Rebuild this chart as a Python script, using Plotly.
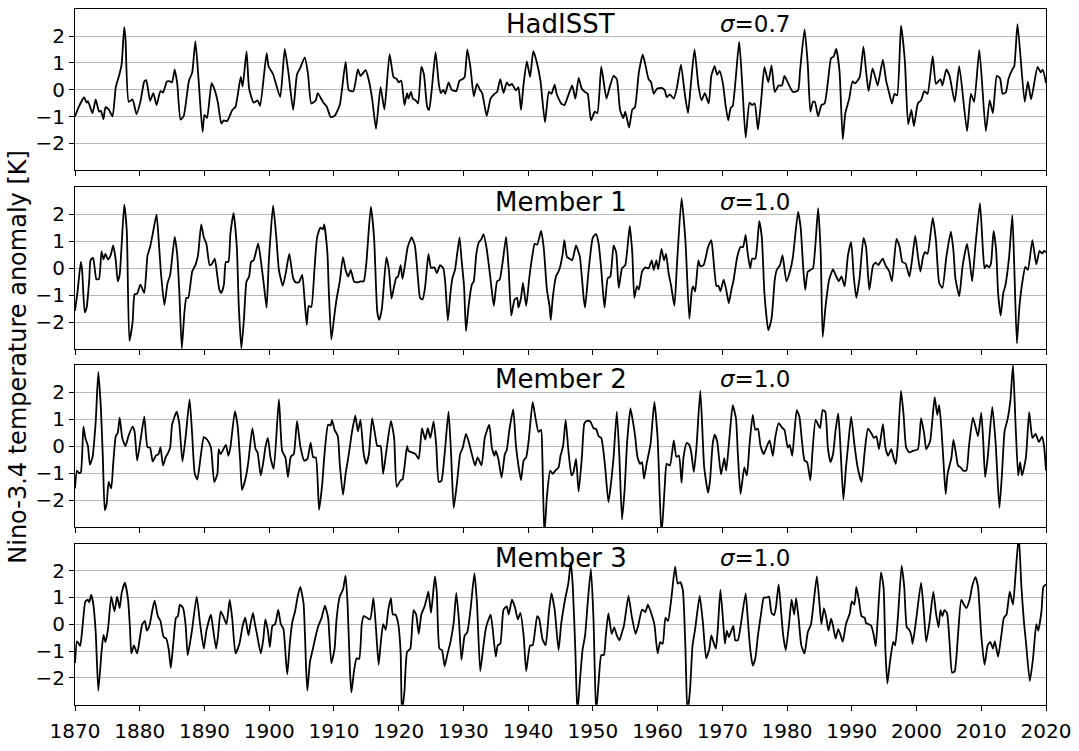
import plotly.graph_objects as go
from plotly.subplots import make_subplots

# ---------------- data (year, anomaly K) ----------------
hadisst = [
(1870.0,-0.99),(1870.6,-0.63),(1871.1,-0.39),(1871.4,-0.27),(1871.8,-0.48),(1872.0,-0.42),(1872.7,-0.87),
(1873.2,-0.36),(1873.7,-0.81),(1874.0,-0.78),(1874.4,-1.09),(1874.7,-0.65),(1875.2,-0.73),(1875.8,-0.99),
(1876.3,0.10),(1876.8,0.52),(1877.2,0.94),(1877.6,2.33),(1877.8,1.91),(1878.3,-0.45),(1878.9,-0.36),
(1879.5,-0.91),(1880.1,-0.45),(1880.7,0.31),(1881.0,0.36),(1881.6,-0.41),(1882.1,-0.12),(1882.6,-0.57),
(1883.2,-0.05),(1883.6,-0.10),(1884.2,0.31),(1884.7,0.31),(1885.0,0.28),(1885.4,0.76),(1885.8,0.22),
(1886.3,-1.11),(1886.8,-0.97),(1887.6,0.34),(1888.1,0.64),(1888.6,1.81),(1889.1,0.34),(1889.7,-1.57),
(1890.0,-0.93),(1890.4,-1.05),(1891.1,0.25),(1891.6,-0.02),(1892.1,-0.51),(1892.6,-1.26),(1893.0,-1.14),
(1893.5,-1.17),(1894.3,-0.75),(1894.8,-0.63),(1895.6,0.48),(1895.9,0.12),(1896.5,1.43),(1896.9,0.04),
(1897.6,-0.48),(1898.2,-0.39),(1898.6,-0.60),(1899.6,1.37),(1899.9,0.88),(1900.6,0.58),(1901.7,-0.27),
(1902.4,1.52),(1903.0,0.58),(1903.7,-0.75),(1904.3,0.58),(1904.8,0.82),(1905.5,1.21),(1906.0,0.58),
(1906.5,-0.51),(1907.2,-0.39),(1907.5,-0.12),(1908.3,-0.45),(1908.9,-0.63),(1909.5,-1.02),(1910.1,-0.97),
(1910.9,-0.57),(1911.8,1.04),(1912.3,-0.02),(1913.0,-0.05),(1913.7,0.76),(1914.1,0.52),(1914.9,0.73),
(1915.4,0.34),(1915.9,-0.33),(1916.5,-1.45),(1917.2,0.10),(1917.8,-0.73),(1918.6,1.33),(1919.2,0.48),
(1919.7,0.40),(1920.0,0.28),(1920.4,0.34),(1920.9,-0.57),(1921.3,-0.12),(1921.5,-0.33),(1921.9,-0.08),
(1922.2,-0.33),(1922.6,-0.39),(1923.0,-0.51),(1923.5,0.85),(1923.9,0.58),(1924.4,-0.63),(1924.7,-0.75),
(1925.1,-0.02),(1925.7,1.40),(1926.2,0.22),(1926.5,-0.12),(1926.9,0.0),(1927.2,-0.15),(1927.7,0.28),
(1928.2,0.0),(1928.9,-0.05),(1929.4,0.34),(1929.9,0.40),(1930.2,0.48),(1930.6,1.51),(1931.1,0.82),
(1931.6,-0.24),(1932.1,0.22),(1932.6,-0.02),(1932.9,-0.12),(1933.6,-0.97),(1934.2,-0.33),(1934.8,-0.15),
(1935.2,-0.08),(1935.7,0.40),(1936.2,-0.12),(1936.7,0.28),(1937.1,0.16),(1937.5,0.22),(1938.1,-0.02),
(1938.5,0.10),(1938.9,-0.75),(1939.3,0.22),(1939.8,1.06),(1940.3,0.48),(1940.8,1.45),(1941.3,1.06),
(1941.9,0.34),(1942.6,-1.21),(1943.2,-0.08),(1943.6,-0.15),(1944.1,0.19),(1944.4,-0.15),(1945.1,-0.51),
(1945.6,-0.57),(1946.2,-0.21),(1946.8,0.16),(1947.3,-0.33),(1947.8,0.44),(1948.3,0.04),(1948.8,-0.08),
(1949.2,-0.15),(1949.7,-1.14),(1950.3,-0.81),(1950.7,-0.87),(1951.3,0.86),(1952.1,-0.33),(1952.6,0.10),
(1953.2,0.52),(1953.7,0.40),(1954.2,-0.75),(1954.7,-1.05),(1955.0,-0.81),(1955.6,-1.41),(1956.1,-0.73),
(1956.5,-0.65),(1957.1,0.64),(1957.7,1.31),(1958.1,0.94),(1958.6,0.40),(1959.0,0.28),(1959.4,-0.15),
(1959.9,0.04),(1960.6,0.07),(1961.1,-0.02),(1961.4,-0.27),(1961.9,-0.17),(1962.5,-0.33),(1963.0,0.10),
(1963.6,0.94),(1964.2,-0.15),(1964.7,-0.87),(1965.1,0.10),(1965.7,1.51),(1966.3,0.16),(1966.8,-0.39),
(1967.3,-0.12),(1967.9,-0.51),(1968.3,0.52),(1968.8,0.88),(1969.2,0.56),(1969.6,0.70),(1970.1,0.22),
(1970.5,-0.57),(1970.9,-1.14),(1971.3,-0.67),(1971.6,-0.61),(1972.6,1.79),(1973.1,0.10),(1973.6,-1.78),
(1974.2,-0.48),(1974.6,-0.57),(1975.0,-0.51),(1975.5,-1.48),(1976.0,-0.39),(1976.5,0.85),(1977.1,0.28),
(1977.6,0.91),(1978.1,-0.08),(1978.7,0.16),(1979.2,0.16),(1979.6,0.52),(1980.1,0.28),(1980.9,-0.08),
(1981.7,-0.02),(1982.0,0.70),(1982.7,2.25),(1983.2,0.94),(1983.6,-0.81),(1984.0,-0.45),(1984.3,-0.45),
(1984.8,-0.99),(1985.3,-0.57),(1985.8,-0.51),(1986.3,0.28),(1986.8,1.18),(1987.2,1.24),(1987.6,1.52),
(1988.1,0.70),(1988.6,-1.84),(1989.0,-0.87),(1989.6,-0.33),(1990.1,0.31),(1990.5,0.24),(1991.2,0.46),
(1991.8,1.61),(1992.2,0.70),(1992.6,-0.05),(1993.2,0.80),(1993.7,0.40),(1994.0,0.16),(1994.8,1.12),
(1995.3,0.34),(1995.8,-0.15),(1996.2,-0.51),(1996.6,-0.15),(1997.0,-0.21),(1997.6,2.39),(1998.2,1.06),
(1998.7,-1.29),(1999.2,-0.75),(1999.6,-1.35),(2000.2,-0.51),(2000.7,-0.39),(2001.2,-0.05),(2001.7,-0.15),
(2002.5,1.25),(2003.0,0.22),(2003.7,0.40),(2004.0,0.16),(2004.6,0.76),(2005.1,0.52),(2005.9,-0.45),
(2006.6,0.88),(2007.8,-1.54),(2008.4,-0.15),(2008.9,-0.45),(2009.7,1.49),(2010.7,-1.54),(2011.3,-0.39),
(2011.8,-0.87),(2012.4,0.52),(2012.9,0.43),(2013.3,-0.15),(2013.8,-0.09),(2014.2,0.40),(2014.8,0.76),
(2015.1,0.88),(2015.6,2.45),(2016.7,-0.45),(2017.2,0.30),(2017.7,-0.35),(2018.7,0.85),(2019.2,0.65),
(2019.5,0.75),(2020.0,0.25),
]

member1 = [
(1870.0,-1.57),(1870.4,-0.85),(1870.9,0.24),(1871.1,-0.06),(1871.5,-1.63),(1871.8,-1.45),(1872.2,-0.42),
(1872.4,0.30),(1872.8,0.39),(1873.3,-0.40),(1873.7,-0.40),(1874.1,0.63),(1874.4,0.33),(1874.7,0.54),
(1875.1,0.33),(1875.5,0.48),(1875.9,0.85),(1876.3,0.30),(1876.6,-0.48),(1876.9,-0.24),(1877.6,2.36),
(1878.0,1.39),(1878.4,-2.68),(1878.9,-1.99),(1879.2,-0.97),(1879.6,-0.93),(1880.1,-0.60),(1880.7,-0.91),
(1881.2,0.48),(1881.6,0.79),(1882.0,1.27),(1882.6,1.99),(1883.0,0.79),(1883.3,-0.24),(1883.8,-1.36),
(1884.3,-0.54),(1884.7,-0.24),(1885.4,1.17),(1885.8,0.48),(1886.1,-0.79),(1886.5,-2.96),(1886.9,-1.63),
(1887.2,-1.09),(1887.5,-1.09),(1888.1,-0.12),(1888.6,0.12),(1889.0,0.48),(1889.5,1.63),(1889.9,1.15),
(1890.3,0.91),(1890.8,0.12),(1891.2,0.18),(1891.6,0.36),(1892.0,-0.30),(1892.3,-0.79),(1892.6,-0.91),
(1893.0,-0.60),(1893.3,0.24),(1893.7,0.24),(1894.0,1.27),(1894.5,2.05),(1895.0,0.79),(1895.3,-1.39),
(1895.7,-2.96),(1896.1,-1.87),(1896.5,-0.48),(1896.9,-0.30),(1897.2,0.24),(1897.6,0.30),(1898.3,0.93),
(1898.8,0.12),(1899.2,-0.66),(1899.6,-1.45),(1899.95,0.30),(1900.6,2.33),(1901.1,1.15),(1901.5,-0.06),
(1902.1,-0.64),(1902.6,-0.12),(1903.1,0.54),(1903.7,-0.36),(1904.1,-0.52),(1904.6,-0.51),(1905.1,-0.24),
(1905.5,-1.27),(1905.8,-2.09),(1906.1,-1.39),(1906.5,-1.43),(1907.0,0.0),(1907.4,1.15),(1907.9,1.51),
(1908.3,1.45),(1908.5,1.63),(1909.0,0.54),(1909.2,-0.79),(1909.6,-2.63),(1910.0,-1.87),(1910.4,-1.15),
(1910.9,-0.48),(1911.4,0.42),(1911.8,-0.06),(1912.2,-0.30),(1912.6,-0.06),(1913.1,-0.48),(1913.6,-0.52),
(1914.1,-0.48),(1914.6,-0.48),(1915.0,0.18),(1915.7,2.29),(1916.2,1.15),(1916.7,-1.63),(1917.0,-1.91),
(1917.4,-1.51),(1918.1,0.42),(1918.5,-0.06),(1918.9,-1.12),(1919.3,-0.66),(1919.6,-0.36),(1919.9,-0.30),
(1920.3,0.12),(1920.6,-0.39),(1921.0,0.18),(1921.4,0.79),(1922.0,1.15),(1922.5,0.85),(1923.0,-0.42),
(1923.3,-1.09),(1923.7,-1.15),(1924.1,-0.66),(1924.6,0.54),(1925.0,0.02),(1925.5,0.04),(1925.9,-0.18),
(1926.4,0.12),(1926.9,0.0),(1927.2,-0.54),(1927.6,-1.93),(1928.0,-0.91),(1928.3,-0.36),(1928.7,-0.06),
(1929.4,1.15),(1929.7,0.36),(1930.1,-0.66),(1930.4,-2.32),(1930.8,-1.39),(1931.3,-0.60),(1931.6,-0.48),
(1932.0,0.54),(1932.4,0.97),(1932.8,1.09),(1933.1,1.27),(1933.6,0.72),(1934.2,-0.42),(1934.7,-1.39),
(1935.2,-0.48),(1935.6,-0.42),(1936.1,0.30),(1936.6,1.17),(1937.0,-0.06),(1937.4,-1.75),(1937.9,-1.15),
(1938.3,-1.09),(1938.5,-1.45),(1938.9,-1.09),(1939.2,-0.54),(1939.7,-1.39),(1940.2,-0.30),(1940.7,0.54),
(1941.0,0.91),(1941.4,0.88),(1942.0,1.39),(1942.4,0.79),(1942.9,-0.79),(1943.3,-1.39),(1943.5,-1.91),
(1943.8,-1.09),(1944.3,-0.30),(1944.8,-0.06),(1945.3,0.48),(1945.6,1.05),(1946.0,0.42),(1946.4,0.36),
(1946.8,0.30),(1947.4,0.85),(1947.7,0.66),(1948.0,0.42),(1948.6,-1.15),(1948.8,-1.45),(1949.3,-0.18),
(1950.0,1.15),(1950.5,1.27),(1950.9,0.91),(1951.3,-0.06),(1951.8,-1.45),(1952.3,-0.36),(1952.7,-0.30),
(1953.2,0.85),(1953.6,0.60),(1954.0,-0.72),(1954.5,0.0),(1955.0,0.12),(1955.7,1.57),(1956.1,0.54),
(1956.4,-1.09),(1956.8,-0.66),(1957.1,-0.79),(1957.6,-0.12),(1958.1,0.04),(1958.6,0.0),(1959.1,0.30),
(1959.4,-0.06),(1959.8,0.30),(1960.1,-0.03),(1960.6,0.72),(1961.0,0.30),(1961.3,0.54),(1961.7,-0.18),
(1962.1,-0.66),(1962.6,-1.39),(1963.0,0.18),(1963.7,2.60),(1964.3,1.02),(1964.9,-1.87),(1965.3,-0.79),
(1965.5,-0.67),(1965.8,-0.85),(1966.3,0.30),(1966.6,0.08),(1967.1,0.12),(1967.8,0.79),(1968.3,1.05),
(1968.6,0.42),(1969.1,-0.66),(1969.4,-0.64),(1969.7,-0.85),(1970.2,-0.42),(1970.6,-0.79),(1971.0,-1.29),
(1971.4,-0.79),(1971.7,-0.48),(1972.3,0.42),(1972.8,0.79),(1973.2,0.79),(1973.6,1.24),(1973.9,0.60),
(1974.3,0.0),(1974.6,0.36),(1975.1,0.36),(1975.7,1.75),(1976.1,1.15),(1976.5,-0.91),(1977.1,-2.29),
(1977.6,-1.87),(1978.1,-0.42),(1978.4,-0.06),(1978.9,0.12),(1979.3,0.48),(1979.9,-0.48),(1980.5,-0.06),
(1980.9,0.42),(1981.7,2.09),(1982.1,1.51),(1982.5,0.0),(1982.8,-0.79),(1983.2,-0.12),(1983.6,-0.06),
(1984.0,0.0),(1984.8,2.23),(1985.2,0.54),(1985.5,-2.54),(1985.9,-1.51),(1986.5,-0.42),(1987.1,-0.04),
(1987.6,-0.30),(1988.0,-0.48),(1988.4,-0.30),(1988.9,-0.66),(1989.4,0.48),(1989.9,0.97),(1990.3,-0.30),
(1990.7,-1.09),(1991.2,-0.36),(1991.8,1.12),(1992.2,0.79),(1992.7,-0.79),(1993.3,0.12),(1993.7,0.21),
(1994.1,0.12),(1994.4,0.24),(1994.8,0.36),(1995.2,0.12),(1995.8,-0.12),(1996.2,-0.48),(1996.9,1.09),
(1997.4,0.79),(1997.8,0.24),(1998.3,0.18),(1998.9,-0.30),(1999.3,0.30),(1999.8,1.21),(2000.2,0.48),
(2000.6,-0.12),(2001.0,0.42),(2001.3,0.60),(2001.7,0.54),(2002.5,1.87),(2003.0,1.03),(2003.5,-0.54),
(2004.0,-0.72),(2004.6,0.42),(2005.3,1.36),(2005.7,0.66),(2006.0,-0.36),(2006.6,-1.03),(2007.1,0.06),
(2007.8,0.91),(2008.2,0.30),(2008.6,-0.48),(2009.1,0.85),(2009.8,2.42),(2010.2,0.91),(2010.5,0.0),
(2010.8,0.12),(2011.2,0.04),(2011.5,0.18),(2011.9,1.39),(2012.3,0.66),(2012.6,-0.91),(2013.0,-1.75),
(2013.4,-0.91),(2013.7,-0.66),(2014.3,0.42),(2014.8,1.97),(2015.1,0.06),(2015.5,-2.78),(2015.9,-1.39),
(2016.4,-0.42),(2016.8,0.06),(2017.2,-0.05),(2017.9,1.05),(2018.5,0.15),(2019.0,0.65),(2019.4,0.55),
(2019.7,0.65),(2020.0,0.60),
]

member2 = [
(1870.0,-1.57),(1870.3,-0.91),(1870.6,-1.00),(1870.9,-0.97),(1871.3,0.72),(1871.6,0.30),(1872.0,0.0),
(1872.3,-0.69),(1872.7,-0.42),(1873.2,0.91),(1873.6,2.74),(1874.0,1.39),(1874.3,-0.42),(1874.6,-2.38),
(1874.9,-2.12),(1875.2,-1.33),(1875.6,-1.57),(1875.9,-0.66),(1876.3,0.36),(1876.6,0.48),(1876.9,1.05),
(1877.3,0.30),(1877.8,0.0),(1878.3,0.40),(1878.9,0.72),(1879.2,0.54),(1879.6,-0.54),(1880.1,0.18),
(1880.7,1.09),(1881.2,-0.04),(1881.6,-0.06),(1882.0,-0.57),(1882.5,-0.36),(1882.9,-0.30),(1883.2,-0.04),
(1883.6,-0.72),(1884.0,-0.42),(1884.4,-0.24),(1884.7,-0.06),(1885.0,0.79),(1885.7,1.27),(1886.1,0.85),
(1886.6,-0.57),(1887.1,0.36),(1887.7,1.73),(1888.1,0.42),(1888.5,-1.03),(1888.9,-1.24),(1889.4,-0.42),
(1889.9,0.33),(1890.4,0.24),(1891.0,-0.06),(1891.5,-1.33),(1892.0,-1.03),(1892.2,-0.12),(1892.5,-0.30),
(1893.3,0.04),(1893.7,-0.36),(1894.0,-0.06),(1894.7,1.29),(1895.1,0.79),(1895.5,-0.48),(1895.8,-1.63),
(1896.4,-1.15),(1896.8,-0.54),(1897.4,0.66),(1897.9,-0.12),(1898.2,-0.24),(1898.7,-1.09),(1899.2,-0.42),
(1899.4,-0.06),(1899.8,0.30),(1900.2,-0.42),(1900.7,-0.85),(1901.5,1.73),(1902.0,-0.18),(1902.5,-0.42),
(1902.9,-1.15),(1903.3,-0.42),(1903.5,-0.36),(1903.8,-0.30),(1904.3,0.93),(1904.8,0.0),(1905.4,-0.54),
(1905.9,-0.48),(1906.4,0.12),(1906.8,-0.42),(1907.2,-0.42),(1907.7,-2.36),(1908.2,-1.39),(1908.5,-0.42),
(1909.1,0.79),(1909.5,0.76),(1909.7,0.97),(1910.1,0.60),(1910.6,0.36),(1910.9,-0.66),(1911.4,-1.81),
(1911.8,-1.03),(1912.3,-0.30),(1912.8,0.54),(1913.3,1.12),(1913.7,0.54),(1914.1,0.97),(1914.6,-0.30),
(1915.0,-0.66),(1915.4,-0.30),(1915.9,1.03),(1916.4,0.36),(1916.7,0.0),(1917.2,0.0),(1917.6,-1.03),
(1918.1,-0.18),(1918.8,0.93),(1919.3,0.30),(1919.7,-1.51),(1920.3,-1.27),(1920.6,-1.24),(1921.3,0.0),
(1921.5,-0.18),(1922.1,-0.24),(1922.6,-0.30),(1923.1,-0.48),(1923.6,0.66),(1924.1,0.24),(1924.5,0.66),
(1924.9,0.30),(1925.4,0.91),(1925.8,0.04),(1926.2,-1.33),(1926.6,-1.29),(1927.1,-0.30),(1927.7,1.27),
(1928.1,-0.30),(1928.5,-2.29),(1929.0,-1.39),(1929.5,-0.30),(1929.9,-0.06),(1930.4,0.45),(1930.8,0.18),
(1931.3,-0.30),(1931.8,-0.72),(1932.2,-0.42),(1932.8,-0.72),(1933.3,0.30),(1934.0,0.79),(1934.4,-0.06),
(1934.8,-0.36),(1935.0,-0.18),(1935.4,-0.48),(1935.9,-1.17),(1936.4,-0.30),(1936.7,-0.15),(1937.1,0.60),
(1937.7,1.36),(1938.1,0.06),(1938.5,-0.72),(1938.9,-1.27),(1939.3,-0.54),(1939.7,-0.42),(1940.1,0.24),
(1940.7,1.63),(1941.1,1.09),(1941.6,0.52),(1942.0,0.60),(1942.2,-0.42),(1942.5,-3.30),(1942.9,-1.87),
(1943.4,-0.91),(1943.8,-1.03),(1944.2,-0.91),(1944.7,-0.79),(1945.0,-0.36),(1945.4,0.0),(1945.8,0.97),
(1946.2,-0.12),(1946.7,-1.09),(1947.0,-0.97),(1947.4,-0.48),(1947.8,-1.69),(1948.3,-0.42),(1948.7,0.85),
(1949.1,0.93),(1949.6,0.91),(1950.1,0.66),(1950.5,0.63),(1950.9,0.36),(1951.3,0.30),(1951.6,-0.12),
(1951.9,-0.79),(1952.4,-2.08),(1952.8,-1.39),(1953.2,-0.42),(1953.7,1.27),(1954.1,-0.42),(1954.5,-2.72),
(1954.9,-1.63),(1955.3,0.18),(1955.8,1.39),(1956.1,1.03),(1956.5,0.42),(1956.9,-0.42),(1957.3,-0.66),
(1957.6,-0.60),(1957.9,-1.21),(1958.3,-0.66),(1958.9,0.06),(1959.5,1.63),(1960.0,0.30),(1960.6,-3.30),
(1961.1,-1.51),(1961.4,-0.66),(1961.9,-0.72),(1962.5,0.21),(1962.9,-0.40),(1963.3,-0.36),(1963.7,-1.36),
(1964.0,-0.42),(1964.5,0.12),(1964.9,0.04),(1965.2,-0.24),(1965.6,-0.97),(1966.0,-0.06),(1966.6,2.05),
(1967.2,-0.79),(1967.8,-1.73),(1968.1,-1.27),(1968.5,0.06),(1968.8,0.42),(1969.2,0.18),(1969.8,-1.05),
(1970.3,-0.45),(1970.6,-0.91),(1971.1,0.30),(1971.6,1.51),(1972.1,1.03),(1972.4,-0.30),(1972.8,-1.78),
(1973.1,-1.27),(1973.4,-0.79),(1973.8,-1.09),(1974.2,0.06),(1974.7,1.15),(1975.1,0.60),(1975.5,0.64),
(1975.9,0.0),(1976.4,-0.30),(1976.8,-0.06),(1977.3,0.21),(1977.8,-0.36),(1978.2,0.36),(1978.7,0.85),
(1979.2,0.69),(1979.6,0.60),(1980.1,-0.06),(1980.4,0.04),(1980.8,-0.36),(1981.1,0.42),(1981.5,1.33),
(1981.9,1.09),(1982.3,0.18),(1982.7,-0.54),(1983.1,-0.60),(1983.6,-1.27),(1983.9,-0.30),(1984.4,0.97),
(1984.8,0.79),(1985.1,0.66),(1985.5,1.33),(1985.9,1.27),(1986.3,-0.06),(1986.7,-0.60),(1987.1,-0.30),
(1987.5,0.60),(1987.9,1.21),(1988.2,0.18),(1988.7,-1.99),(1989.1,-0.79),(1989.4,-0.06),(1989.9,1.09),
(1990.4,0.06),(1990.9,-0.79),(1991.5,-1.33),(1992.0,-0.18),(1992.5,0.64),(1993.0,0.48),(1993.4,0.30),
(1993.8,0.36),(1994.2,-0.12),(1994.8,0.81),(1995.2,-0.06),(1995.6,-0.36),(1996.1,-0.12),(1996.5,-0.48),
(1996.8,-0.66),(1997.1,0.06),(1997.6,2.05),(1998.0,1.15),(1998.4,-0.06),(1998.9,-0.24),(1999.4,-0.18),
(2000.2,-0.12),(2000.7,1.03),(2001.2,0.42),(2001.5,-0.12),(2002.1,0.18),(2002.8,1.81),(2003.2,1.15),
(2003.5,1.51),(2003.8,0.79),(2004.2,-0.72),(2004.5,-1.78),(2004.8,-1.03),(2005.4,-0.42),(2005.7,0.24),
(2006.1,-0.30),(2006.4,-0.72),(2006.8,-0.79),(2007.2,-0.91),(2007.7,-0.91),(2008.1,0.0),(2008.7,1.05),
(2009.1,0.72),(2009.5,0.36),(2010.0,1.24),(2010.3,0.18),(2010.6,-1.15),(2011.0,-0.42),(2011.7,1.45),
(2012.2,0.18),(2012.8,-2.29),(2013.2,-1.03),(2013.6,0.54),(2014.1,1.03),(2014.5,1.69),(2014.9,3.00),
(2015.3,0.79),(2015.7,-1.09),(2016.0,-0.60),(2016.3,-1.09),(2016.9,-0.42),(2017.4,1.25),(2017.9,0.30),
(2018.4,0.45),(2018.9,0.15),(2019.4,0.35),(2019.7,0.0),(2020.0,-0.90),
]

member3 = [
(1870.0,-1.45),(1870.3,-0.64),(1870.5,-0.69),(1870.8,-0.81),(1871.2,0.0),(1871.6,0.85),(1872.0,0.91),
(1872.2,0.81),(1872.5,1.09),(1872.8,0.79),(1873.2,-0.30),(1873.6,-2.48),(1874.1,-1.03),(1874.4,-0.40),
(1874.7,-0.67),(1875.1,-0.18),(1875.6,1.03),(1876.1,0.48),(1876.5,1.03),(1876.9,0.60),(1877.2,1.15),
(1877.7,1.55),(1878.2,0.91),(1878.5,-0.18),(1878.7,-1.09),(1879.1,-0.79),(1879.6,-1.09),(1880.0,-0.54),
(1880.4,0.0),(1880.8,0.12),(1881.1,-0.24),(1881.5,-0.06),(1881.96,0.54),(1882.3,0.88),(1882.8,0.30),
(1883.2,0.12),(1883.7,-0.48),(1884.1,-0.54),(1884.5,-0.97),(1884.8,-1.63),(1885.2,-0.67),(1885.6,0.24),
(1885.9,0.30),(1886.2,0.73),(1886.7,0.60),(1887.1,-0.06),(1887.4,-1.15),(1887.7,-0.79),(1888.1,-0.18),
(1888.8,1.03),(1889.3,0.06),(1889.9,-0.91),(1890.3,-0.24),(1891.0,0.36),(1891.3,-0.12),(1891.8,-0.91),
(1892.1,-0.42),(1892.5,0.48),(1892.9,0.30),(1893.4,0.0),(1893.9,0.91),(1894.3,0.18),(1894.8,-1.09),
(1895.4,-0.73),(1895.9,-0.06),(1896.3,0.24),(1896.8,-0.42),(1897.1,0.0),(1897.5,0.42),(1897.8,0.0),
(1898.1,-0.36),(1898.7,-1.09),(1899.1,-0.54),(1899.4,0.18),(1899.8,-0.24),(1900.1,-0.85),(1900.5,-0.06),
(1900.9,0.0),(1901.1,0.18),(1901.4,0.54),(1901.8,0.0),(1902.2,-0.18),(1902.6,-1.39),(1902.8,-1.87),
(1903.2,-0.67),(1903.6,0.12),(1904.0,0.48),(1904.4,1.03),(1904.8,1.39),(1905.3,0.79),(1905.7,-1.63),
(1905.9,-2.48),(1906.3,-1.39),(1906.7,-0.97),(1907.2,-0.42),(1907.6,-0.06),(1908.1,0.24),(1908.6,0.69),
(1909.1,0.24),(1909.6,-1.45),(1910.1,-0.91),(1910.4,0.18),(1910.9,1.03),(1911.4,1.29),(1911.8,1.81),
(1912.1,0.79),(1912.5,-1.87),(1912.7,-2.54),(1913.1,-1.75),(1913.5,-1.27),(1913.9,-1.29),(1914.3,0.0),
(1914.6,0.30),(1915.1,0.24),(1915.6,0.18),(1916.1,0.97),(1916.5,-0.18),(1916.9,-1.51),(1917.2,-0.79),
(1917.6,0.0),(1918.0,-0.21),(1918.4,0.54),(1918.8,0.97),(1919.1,0.36),(1919.5,0.36),(1919.9,0.06),
(1920.3,-1.03),(1920.5,-3.30),(1920.9,-2.48),(1921.3,-1.03),(1921.8,-0.91),(1922.3,0.52),(1922.7,0.36),
(1923.1,-0.36),(1923.5,0.36),(1924.0,0.66),(1924.4,1.03),(1924.6,1.21),(1925.0,0.42),(1925.6,1.78),
(1925.9,1.15),(1926.3,-0.91),(1926.7,-0.97),(1927.1,-1.57),(1927.5,-1.15),(1928.0,-0.67),(1928.5,0.06),
(1928.9,1.17),(1929.3,0.18),(1929.7,-1.33),(1930.2,-0.42),(1930.6,-0.30),(1931.1,0.54),(1931.7,1.90),
(1932.1,0.79),(1932.6,-1.75),(1933.1,-0.79),(1933.5,-0.12),(1934.2,0.36),(1934.5,-0.12),(1935.0,-1.21),
(1935.3,-0.79),(1935.7,-0.73),(1936.2,0.54),(1936.7,0.66),(1937.0,0.36),(1937.5,0.91),(1938.0,0.60),
(1938.4,0.18),(1938.8,0.42),(1939.3,-0.42),(1939.7,-1.75),(1940.3,-0.79),(1940.7,-0.79),(1941.4,0.30),
(1941.7,0.21),(1942.2,-0.54),(1942.7,-0.79),(1943.2,0.42),(1943.6,1.15),(1944.1,0.54),(1944.7,-0.97),
(1945.1,0.0),(1945.7,0.91),(1946.2,1.51),(1946.6,2.30),(1946.9,1.39),(1947.3,-1.03),(1947.6,-3.30),
(1948.0,-2.12),(1948.4,-0.97),(1948.8,-0.42),(1949.2,0.79),(1949.7,2.06),(1950.1,0.18),(1950.5,-3.30),
(1950.9,-2.12),(1951.3,-1.15),(1951.7,-1.15),(1952.0,-0.42),(1952.4,0.40),(1952.9,-0.36),(1953.3,-0.12),
(1953.7,-0.42),(1954.1,-0.60),(1954.5,-0.30),(1954.8,-0.06),(1955.5,1.05),(1956.0,0.30),(1956.6,-0.36),
(1957.0,-0.06),(1957.6,0.54),(1958.1,0.45),(1958.5,0.73),(1959.0,0.42),(1959.5,0.0),(1960.0,-1.09),
(1960.4,-0.67),(1960.8,-0.73),(1961.2,0.24),(1961.6,0.12),(1962.1,0.91),(1962.7,2.14),(1963.1,1.51),
(1963.5,1.57),(1963.9,1.27),(1964.3,-0.91),(1964.6,-3.30),(1965.0,-2.48),(1965.4,-0.79),(1965.8,-0.18),
(1966.5,1.05),(1967.0,0.06),(1967.5,-1.27),(1968.0,-0.91),(1968.3,-0.42),(1968.6,-0.64),(1969.0,-0.91),
(1969.3,-0.18),(1969.7,1.29),(1970.1,0.18),(1970.4,-0.73),(1970.7,-0.24),(1971.0,-0.48),(1971.4,-0.24),
(1971.7,-0.06),(1972.0,-0.60),(1972.4,-0.60),(1972.9,0.06),(1973.6,1.15),(1973.9,0.30),(1974.3,-0.91),
(1974.7,-1.54),(1975.1,-1.27),(1975.5,-0.42),(1976.0,0.42),(1976.4,0.99),(1976.8,0.99),(1977.2,1.03),
(1977.6,0.42),(1978.0,0.34),(1978.3,0.66),(1978.7,1.48),(1979.1,0.42),(1979.4,-0.42),(1979.8,-0.97),
(1980.3,0.0),(1980.7,0.91),(1981.1,0.36),(1981.4,0.97),(1981.8,0.18),(1982.2,-0.79),(1982.7,-1.09),
(1983.2,-0.30),(1983.7,0.0),(1984.1,0.79),(1984.6,1.78),(1985.0,0.79),(1985.3,0.0),(1985.7,0.60),
(1986.1,0.18),(1986.4,-0.24),(1986.8,0.21),(1987.1,-0.06),(1987.5,-0.54),(1987.9,-0.18),(1988.2,-0.36),
(1988.6,-0.66),(1989.1,0.0),(1989.7,0.42),(1990.0,0.85),(1990.4,0.73),(1990.7,1.39),(1991.1,0.91),
(1991.5,0.30),(1992.0,0.24),(1992.2,0.04),(1992.6,0.0),(1993.0,-0.06),(1993.4,-0.42),(1993.7,-0.82),
(1994.0,0.18),(1994.5,1.93),(1994.9,1.39),(1995.2,-1.03),(1995.5,-2.21),(1995.9,-1.39),(1996.4,-0.66),
(1996.7,-0.79),(1997.1,0.18),(1997.7,2.18),(1998.1,1.39),(1998.5,-0.12),(1998.8,-0.18),(1999.2,-0.42),
(1999.4,-0.73),(1999.95,0.18),(2000.7,1.55),(2001.1,0.54),(2001.5,-0.66),(2002.0,0.06),(2002.6,1.21),
(2003.0,0.42),(2003.4,-0.12),(2003.7,0.52),(2004.0,0.30),(2004.3,0.52),(2004.7,0.42),(2005.1,-0.67),
(2005.5,-1.81),(2005.9,-1.75),(2006.4,-0.42),(2006.9,0.91),(2007.3,0.73),(2007.7,0.60),(2008.2,0.91),
(2008.6,1.41),(2009.1,1.75),(2009.5,1.39),(2010.0,-0.42),(2010.5,-1.51),(2011.0,-0.79),(2011.4,-0.66),
(2011.8,-0.91),(2012.1,-0.64),(2012.6,-1.21),(2013.1,-0.42),(2013.5,0.24),(2013.9,0.36),(2014.4,1.21),
(2014.9,0.73),(2015.3,1.87),(2015.8,3.30),(2016.2,1.39),(2016.6,0.06),(2016.9,-0.66),(2017.5,-2.12),
(2018.0,-1.27),(2018.5,0.0),(2018.8,-0.24),(2019.3,0.48),(2019.6,1.39),(2020.0,1.48),
]

panel_series = [hadisst, member1, member2, member3]
panel_titles = ["HadISST", "Member 1", "Member 2", "Member 3"]
sigma_labels = ["0.7", "1.0", "1.0", "1.0"]
x_ticks = [1870, 1880, 1890, 1900, 1910, 1920, 1930, 1940, 1950, 1960, 1970, 1980, 1990, 2000, 2010, 2020]
y_ticks = [-2, -1, 0, 1, 2]
y_title = "Nino-3.4 temperature anomaly [K]"

# ---------------- figure ----------------
FONT = "DejaVu Sans"
fig = make_subplots(rows=4, cols=1, shared_xaxes=True, vertical_spacing=0.02)

domains = [[0.7682, 0.9996], [0.5109, 0.7437], [0.2557, 0.4885], [0.0004, 0.2318]]

for i, series in enumerate(panel_series):
    yrs = [p[0] for p in series]
    vals = [p[1] for p in series]
    fig.add_trace(go.Scatter(x=yrs, y=vals, mode="lines",
                             line=dict(color="black", width=1.8, shape="spline", smoothing=0.5),
                             showlegend=False, hoverinfo="skip"),
                  row=i + 1, col=1)
    xa = "x" if i == 0 else f"x{i+1}"
    ya = "y" if i == 0 else f"y{i+1}"
    fig.add_annotation(x=1945, y=2.47, xref=xa, yref=ya, text=panel_titles[i],
                       showarrow=False, xanchor="center", yanchor="middle",
                       font=dict(family=FONT, size=26, color="black"))
    fig.add_annotation(x=1975, y=2.47, xref=xa, yref=ya, text="<i>σ</i>=" + sigma_labels[i],
                       showarrow=False, xanchor="center", yanchor="middle",
                       font=dict(family=FONT, size=23, color="black"))

for i in range(4):
    fig.update_xaxes(range=[1870, 2020], tickvals=x_ticks, ticks="outside", ticklen=5,
                     tickcolor="black", showline=True, linecolor="black", linewidth=1,
                     mirror=True, showgrid=False, zeroline=False,
                     tickfont=dict(family=FONT, size=20, color="black"),
                     showticklabels=(i == 3), row=i + 1, col=1)
    fig.update_yaxes(range=[-3, 3], tickvals=y_ticks, ticks="outside", ticklen=5,
                     tickcolor="black", showline=True, linecolor="black", linewidth=1,
                     mirror=True, showgrid=True, gridcolor="#b8b8b8", gridwidth=1,
                     zeroline=False, tickfont=dict(family=FONT, size=20, color="black"),
                     domain=domains[i], row=i + 1, col=1)

fig.update_xaxes(ticklabelstandoff=3, row=4, col=1)

fig.add_annotation(text=y_title, xref="paper", yref="paper", x=-0.059, y=0.5,
                   textangle=-90, showarrow=False, xanchor="center", yanchor="middle",
                   font=dict(family=FONT, size=24, color="black"))

fig.update_layout(width=1079, height=751, margin=dict(l=75, r=31, t=8, b=30),
                  paper_bgcolor="white", plot_bgcolor="white",
                  font=dict(family=FONT, color="black"))

fig.write_html("out.html")
